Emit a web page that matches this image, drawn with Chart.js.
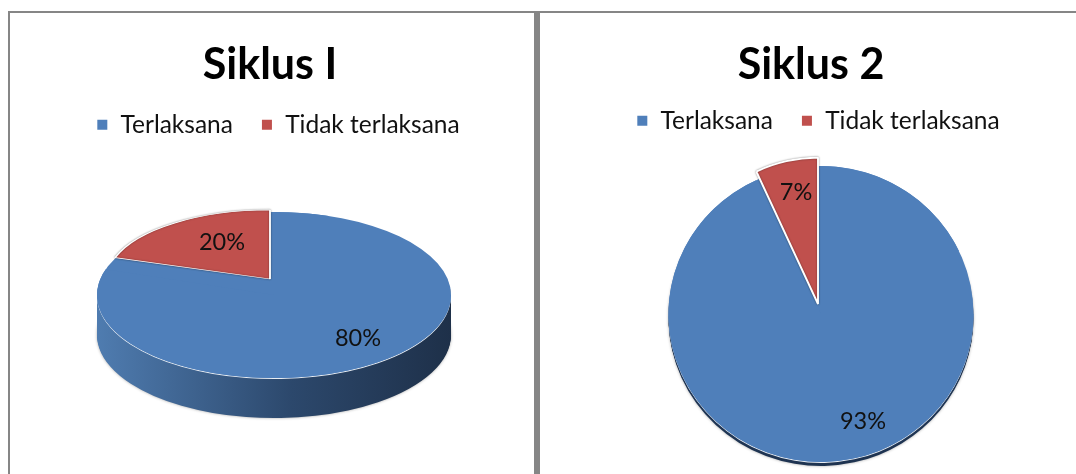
<!DOCTYPE html>
<html>
<head>
<meta charset="utf-8">
<script src="https://cdn.jsdelivr.net/npm/chart.js@4"></script>
<style>
    body { margin: 0; background: #fff; width: 1076px; height: 474px; overflow: hidden; position: relative; }
    .rule { position: absolute; background: #868686; }
    .box { position: absolute; top: 0; width: 536px; height: 474px; }
</style>
</head>
<body>
<div class="rule" style="left:8px;top:11px;width:1068px;height:2px"></div>
<div class="rule" style="left:8px;top:11px;width:2px;height:463px"></div>
<div class="rule" style="left:534px;top:11px;width:6px;height:463px"></div>
<div class="box" style="left:0"><canvas id="chartOne"></canvas></div>
<div class="box" style="left:540px"><canvas id="chartTwo"></canvas></div>
<script>
const categories = ['Terlaksana', 'Tidak terlaksana'];
const siklusOneValues = [80, 20];
const siklusTwoValues = [93, 7];
const sliceColors = ['#4f7fba', '#c0504d'];

// draws the pie by hand so it can be squashed into a 3D looking ellipse
const tiltedPie = {
    id: 'tiltedPie',
    afterLayout(chart, args, opts) {
        chart.legend.left += opts.legendShift[0];
        chart.legend.right += opts.legendShift[0];
        chart.legend.top += opts.legendShift[1];
        chart.legend.bottom += opts.legendShift[1];
        chart.titleBlock.left += opts.titleShift;
        chart.titleBlock.right += opts.titleShift;
    },
    beforeDatasetsDraw(chart, args, opts) {
        const ctx = chart.ctx;
        const arcs = chart.getDatasetMeta(0).data;
        const blue = arcs[0];
        const red = arcs[1];
        const r = blue.outerRadius;

        const place = (arc, t, dy, rot) => {
            ctx.translate(t.x, t.y + dy);
            ctx.scale(t.sx, t.sy);
            if (rot) ctx.rotate(rot);
            ctx.translate(-arc.x, -arc.y);
        };
        const drawCopy = (arc, fill) => {
            const copy = Object.create(arc, {
                options: { value: Object.assign({}, arc.options, { backgroundColor: fill, borderWidth: 0 }) }
            });
            Chart.ArcElement.prototype.draw.call(copy, ctx);
        };

        // side wall
        const grad = ctx.createLinearGradient(blue.x - r, 0, blue.x + r, 0);
        grad.addColorStop(0, opts.wall[0]);
        grad.addColorStop(0.55, opts.wall[1]);
        grad.addColorStop(1, opts.wall[2]);
        for (let d = opts.depth; d >= 2; d--) {
            ctx.save();
            if (d === opts.depth) {
                ctx.shadowColor = 'rgba(0,0,0,0.35)';
                ctx.shadowBlur = 3;
            }
            place(blue, opts.blue, d);
            drawCopy(blue, grad);
            ctx.restore();
        }
        // light rim under the top face
        ctx.save();
        place(blue, opts.blue, 1);
        drawCopy(blue, '#e8edf3');
        ctx.restore();

        // top face, a rotated copy closes the notch behind the pulled out slice
        ctx.save();
        place(blue, opts.blue, 0, Math.PI / 2);
        drawCopy(blue, sliceColors[0]);
        ctx.restore();
        ctx.save();
        place(blue, opts.blue, 0);
        drawCopy(blue, sliceColors[0]);
        ctx.restore();

        ctx.save();
        ctx.shadowColor = 'rgba(0,0,0,0.45)';
        ctx.shadowBlur = 2;
        place(red, opts.red, 0);
        red.draw(ctx);
        ctx.restore();

        // value labels
        ctx.save();
        ctx.font = '23.5px Lato';
        ctx.fillStyle = '#111';
        ctx.textAlign = 'center';
        ctx.textBaseline = 'middle';
        chart.data.datasets[0].data.forEach((v, i) => {
            ctx.fillText(v + '%', opts.labels[i][0], opts.labels[i][1]);
        });
        ctx.restore();
        return false;
    }
};

function makePie(id, values, radius, pie) {
    new Chart(document.getElementById(id), {
        type: 'pie',
        data: {
            labels: categories,
            datasets: [{
                data: values,
                backgroundColor: sliceColors,
                borderColor: '#fff',
                borderWidth: 2,
                radius: radius
            }]
        },
        options: {
            responsive: false,
            animation: false,
            plugins: {
                title: {
                    display: true,
                    text: pie.title,
                    color: '#000',
                    font: { family: 'Lato', size: 43, weight: 'bold' },
                    padding: { top: 39, bottom: 12 }
                },
                legend: {
                    display: true,
                    position: 'top',
                    labels: {
                        color: '#111',
                        font: { family: 'Lato', size: 24.5 },
                        boxWidth: 12,
                        boxHeight: 12,
                        padding: 28
                    }
                },
                tooltip: { enabled: false },
                tiltedPie: pie
            }
        },
        plugins: [tiltedPie]
    });
}

document.getElementById('chartOne').width = 536;
document.getElementById('chartOne').height = 474;
document.getElementById('chartTwo').width = 536;
document.getElementById('chartTwo').height = 474;

makePie('chartOne', siklusOneValues, 177, {
    title: 'Siklus I',
    titleShift: 2,
    legendShift: [10, -18],
    depth: 40,
    wall: ['#4f7cb0', '#2c486c', '#1e3049'],
    blue: { x: 274, y: 295, sx: 1, sy: 0.469 },
    red: { x: 270, y: 279, sx: 0.92, sy: 0.39 },
    labels: [[358, 338], [222, 242]]
});

makePie('chartTwo', siklusTwoValues, 152.5, {
    title: 'Siklus 2',
    titleShift: 3,
    legendShift: [10, -22],
    depth: 4,
    wall: ['#1f3656', '#1e3350', '#1f3656'],
    blue: { x: 281, y: 314, sx: 1, sy: 0.97 },
    red: { x: 278, y: 304, sx: 0.95, sy: 0.96 },
    labels: [[323, 421], [256, 192]]
});
</script>
</body>
</html>
